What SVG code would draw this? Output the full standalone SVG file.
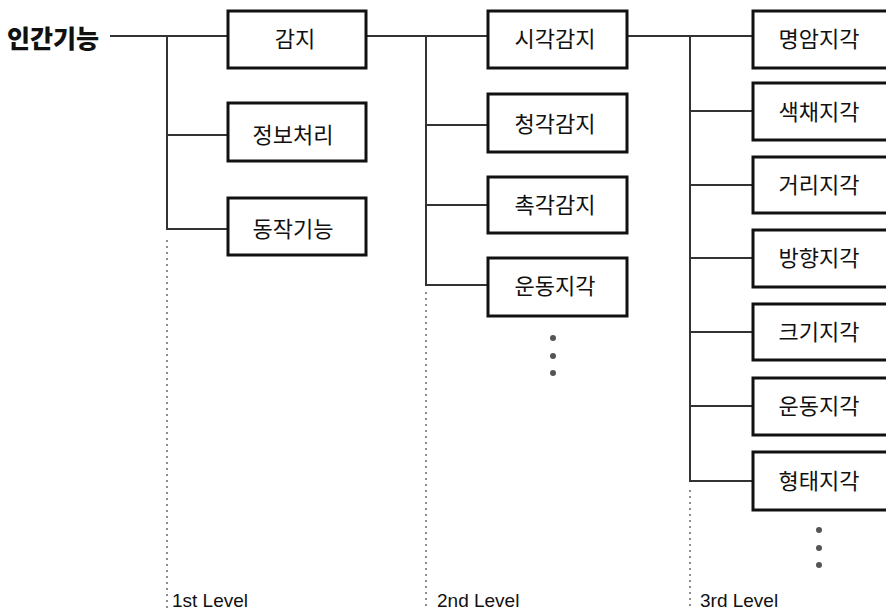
<svg xmlns="http://www.w3.org/2000/svg" width="886" height="615" viewBox="0 0 886 615">
<style>
.box{fill:#fff;stroke:#111;stroke-width:3}
.t{font-family:"Noto Sans CJK KR","Noto Sans",sans-serif;font-size:22px;fill:#111;text-anchor:middle;dominant-baseline:central}
.c{fill:none;stroke:#333;stroke-width:2}
.d{fill:none;stroke:#444;stroke-width:1.2;stroke-dasharray:2 4}
.lv{font-family:"Liberation Sans",Arial,sans-serif;font-size:19px;fill:#111}
.dot{fill:#555}
</style>
<rect width="886" height="615" fill="#fff"/>
<g id="title"><text x="7" y="37" font-family="Noto Sans CJK KR,sans-serif" font-size="25" font-weight="900" fill="#111" dominant-baseline="central">인간기능</text></g>
<g id="connectors">
<path class="c" d="M110 36H227M167 36V229H227M167 135H227"/>
<path class="c" d="M366 36H487M426 36V285H487M426 125H487M426 205H487"/>
<path class="c" d="M628 36H752M690 36V481H752M690 111H752M690 185H752M690 258H752M690 332H752M690 406H752"/>
<path class="d" d="M167 240V610M426 292V610M690 490V610"/>
</g>
<g id="n1"><rect class="box" x="228" y="11" width="138" height="57"/><text class="t" x="295" y="37">감지</text></g>
<g id="n2"><rect class="box" x="228" y="103" width="138" height="58"/><text class="t" x="293" y="133">정보처리</text></g>
<g id="n3"><rect class="box" x="228" y="198" width="138" height="57"/><text class="t" x="293" y="227">동작기능</text></g>
<g id="n4"><rect class="box" x="488" y="11" width="139" height="57"/><text class="t" x="555" y="37">시각감지</text></g>
<g id="n5"><rect class="box" x="488" y="94" width="139" height="58"/><text class="t" x="555" y="122">청각감지</text></g>
<g id="n6"><rect class="box" x="488" y="177" width="139" height="56"/><text class="t" x="555" y="203">촉각감지</text></g>
<g id="n7"><rect class="box" x="488" y="258" width="139" height="58"/><text class="t" x="555" y="284">운동지각</text></g>
<g id="n8"><rect class="box" x="753" y="11" width="140" height="57"/><text class="t" x="819" y="37">명암지각</text></g>
<g id="n9"><rect class="box" x="753" y="83" width="140" height="57"/><text class="t" x="819" y="110">색채지각</text></g>
<g id="n10"><rect class="box" x="753" y="157" width="140" height="56"/><text class="t" x="819" y="183">거리지각</text></g>
<g id="n11"><rect class="box" x="753" y="230" width="140" height="57"/><text class="t" x="819" y="256">방향지각</text></g>
<g id="n12"><rect class="box" x="753" y="304" width="140" height="56"/><text class="t" x="819" y="330">크기지각</text></g>
<g id="n13"><rect class="box" x="753" y="378" width="140" height="57"/><text class="t" x="819" y="404">운동지각</text></g>
<g id="n14"><rect class="box" x="753" y="452" width="140" height="58"/><text class="t" x="819" y="479">형태지각</text></g>
<g id="dots">
<circle class="dot" cx="553" cy="338" r="3"/><circle class="dot" cx="553" cy="356" r="3"/><circle class="dot" cx="553" cy="373" r="3"/>
<circle class="dot" cx="819" cy="530" r="3"/><circle class="dot" cx="819" cy="548" r="3"/><circle class="dot" cx="819" cy="565" r="3"/>
</g>
<g id="levels">
<text class="lv" x="172" y="607">1st Level</text>
<text class="lv" x="437" y="607">2nd Level</text>
<text class="lv" x="700" y="607">3rd Level</text>
</g>
</svg>
